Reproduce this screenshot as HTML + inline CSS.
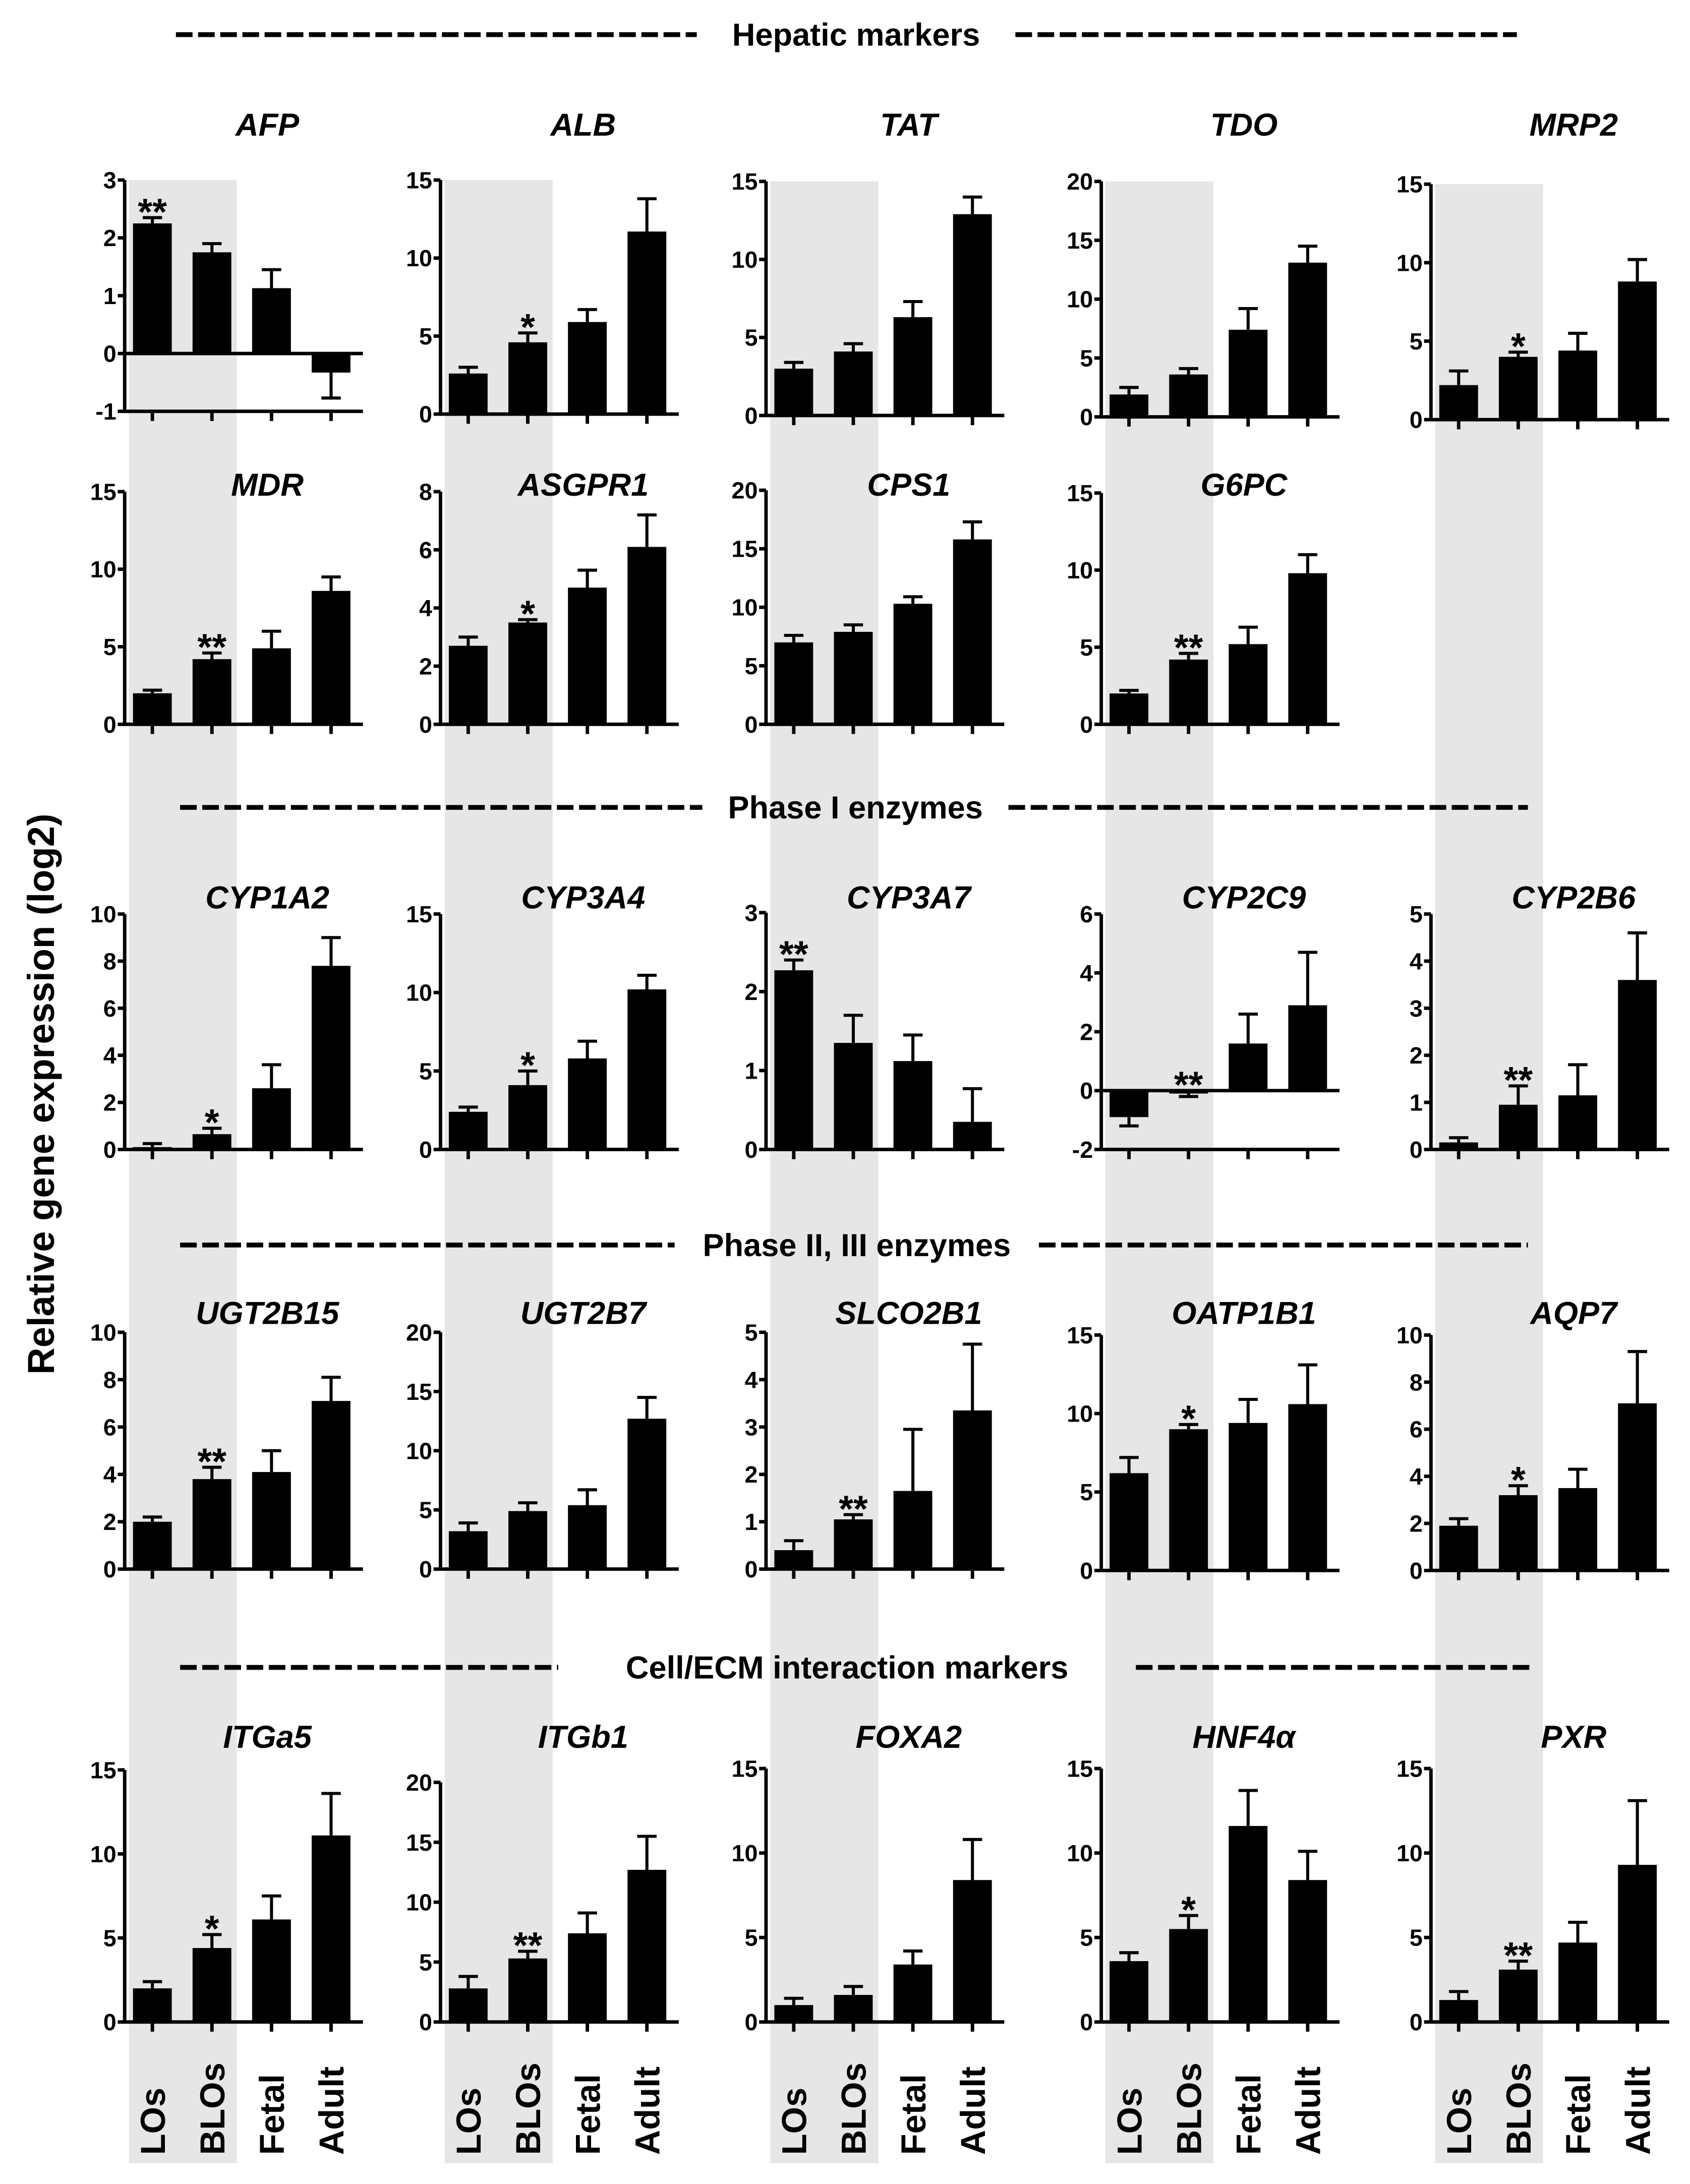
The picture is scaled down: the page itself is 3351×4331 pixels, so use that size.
<!DOCTYPE html>
<html><head><meta charset="utf-8"><style>
html,body{margin:0;padding:0;background:#fff}
svg{display:block}
text{font-family:"Liberation Sans",Arial,sans-serif;font-weight:bold;fill:#000}
</style></head><body>
<svg id="fig" width="3351" height="4331" viewBox="0 0 1220 1577" preserveAspectRatio="none" xmlns="http://www.w3.org/2000/svg">
<g id="bands"></g><g id="panels"></g><g id="headers"></g>
<text x="0" y="0" font-size="27" text-anchor="middle" transform="translate(39,790) rotate(-90)">Relative gene expression (log2)</text>
</svg>
<script>
const categories = ["LOs","BLOs","Fetal","Adult"];
const genes = ["AFP","ALB","TAT","TDO","MRP2","MDR","ASGPR1","CPS1","G6PC","CYP1A2","CYP3A4","CYP3A7","CYP2C9","CYP2B6","UGT2B15","UGT2B7","SLCO2B1","OATP1B1","AQP7","ITGa5","ITGb1","FOXA2","HNF4α","PXR"];
const means = [
 [2.25,1.75,1.13,-0.33],[2.6,4.6,5.9,11.7],[3.0,4.1,6.3,12.9],[1.9,3.6,7.4,13.1],[2.2,4.0,4.4,8.8],
 [2.0,4.2,4.9,8.6],[2.7,3.5,4.7,6.1],[7.0,7.9,10.3,15.8],[2.0,4.2,5.2,9.8],
 [0.1,0.65,2.6,7.8],[2.4,4.1,5.8,10.2],[2.27,1.35,1.12,0.35],[-0.9,-0.1,1.6,2.9],[0.15,0.95,1.15,3.6],
 [2.0,3.8,4.1,7.1],[3.2,4.9,5.4,12.7],[0.4,1.05,1.65,3.35],[6.2,9.0,9.4,10.6],[1.9,3.2,3.5,7.1],
 [2.0,4.4,6.1,11.1],[2.8,5.3,7.4,12.7],[1.0,1.6,3.4,8.4],[3.6,5.5,11.6,8.4],[1.3,3.1,4.7,9.3]];
const errors = [
 [0.1,0.15,0.32,0.44],[0.4,0.6,0.8,2.1],[0.4,0.5,1.0,1.1],[0.6,0.5,1.8,1.4],[0.9,0.3,1.1,1.4],
 [0.2,0.4,1.1,0.9],[0.3,0.1,0.6,1.1],[0.6,0.6,0.6,1.5],[0.2,0.4,1.1,1.2],
 [0.15,0.25,1.0,1.2],[0.3,0.9,1.1,0.9],[0.13,0.35,0.33,0.42],[0.3,0.1,1.0,1.8],[0.1,0.4,0.65,1.0],
 [0.2,0.5,0.9,1.0],[0.7,0.7,1.3,1.8],[0.2,0.1,1.3,1.4],[1.0,0.3,1.5,2.5],[0.3,0.4,0.8,2.2],
 [0.4,0.8,1.4,2.5],[1.0,0.6,1.7,2.8],[0.4,0.5,0.8,2.4],[0.5,0.8,2.1,1.7],[0.5,0.5,1.2,3.8]];
const stars = ["**","*","","","*","**","*","","**","*","*","**","**","**","**","","**","*","*","*","**","","*","**"];
const starIndex = [0,1,1,1,1,1,1,1,1,1,1,0,1,1,1,1,1,1,1,1,1,1,1,1];
const yMins = [-1,0,0,0,0,0,0,0,0,0,0,0,-2,0,0,0,0,0,0,0,0,0,0,0];
const yMaxs = [3,15,15,20,15,15,8,20,15,10,15,3,6,5,10,20,5,15,10,15,20,15,15,15];
const ySteps = [1,5,5,5,5,5,2,5,5,2,5,1,2,1,2,5,1,5,2,5,5,5,5,5];

// layout (positions, not data)
const colX=[90,318,553,795,1033];
const rowTop=[[130,130,131,131,133],[355,355,354,356],[660,660,659,660,660],[962,962,962,964,964],[1278,1287,1277,1277,1277]];
const rowBot=[[297,299,300,301,303],[523,523,523,523],[830,830,830,830,830],[1133,1133,1133,1134,1134],[1460,1460,1460,1460,1460]];
const rowTitle=[98,358,656,956,1262];
const NS="http://www.w3.org/2000/svg";
function mk(tag,attrs,parent){const e=document.createElementNS(NS,tag);for(const k in attrs)e.setAttribute(k,attrs[k]);parent.appendChild(e);return e;}

const bands=document.getElementById('bands');
colX.forEach((x,i)=>{
 const r=mk('rect',{x:x+3,y:rowTop[0][i],width:78,height:1562-rowTop[0][i],fill:'#e6e6e6'},bands);
 
 
});

const panels=document.getElementById('panels');
let gi=0;
for(let r=0;r<5;r++){
 const n=rowBot[r].length;
 for(let c=0;c<n;c++,gi++){
  const x0=colX[c], top=rowTop[r][c], bot=rowBot[r][c];
  const lo=yMins[gi], hi=yMaxs[gi];
  const ys=v=>bot-(v-lo)/(hi-lo)*(bot-top);
  const xs=k=>x0+20+k*43;
  const g=mk('g',{},panels);
  
  
  const t=mk('text',{x:x0+103,y:rowTitle[r],'font-size':23,'font-style':'italic','text-anchor':'middle'},g);
  t.textContent=genes[gi];
  
  
  for(let k=0;k<4;k++){
   const m=means[gi][k], e=errors[gi][k], y0=ys(0), ym=ys(m);
   const b=mk('rect',{x:xs(k)-14,y:Math.min(y0,ym),width:28,height:Math.abs(ym-y0),fill:'#000'},g);
   
   
   const ye=m>=0?ys(m+e):ys(m-e);
   const eb=mk('path',{d:`M${xs(k)} ${ym}V${ye}M${xs(k)-7} ${ye}H${xs(k)+7}`,stroke:'#000','stroke-width':2.2,fill:'none'},g);
   
   
   if(stars[gi] && k===starIndex[gi]){
    const sy=(m>=0?ye:ys(0));
    const s=mk('text',{x:xs(k),y:sy+5,'font-size':27,'text-anchor':'middle'},g);
    s.textContent=stars[gi];
    
    
   }
  }
  const ya=mk('line',{x1:x0,y1:top,x2:x0,y2:bot,stroke:'#000','stroke-width':2.5},g);
  
  
  const xa=mk('line',{x1:x0-1,y1:bot,x2:x0+172,y2:bot,stroke:'#000','stroke-width':2.5},g);
  
  
  if(lo<0){
   const zl=mk('line',{x1:x0,y1:ys(0),x2:x0+172,y2:ys(0),stroke:'#000','stroke-width':2.5},g);
   
   
  }
  for(let k=0;k<4;k++){mk('line',{x1:xs(k),y1:bot,x2:xs(k),y2:bot+7,stroke:'#000','stroke-width':2.5},g);}
  for(let v=lo;v<=hi+1e-9;v+=ySteps[gi]){
   mk('line',{x1:x0-5,y1:ys(v),x2:x0,y2:ys(v),stroke:'#000','stroke-width':2.5},g);
   const tl=mk('text',{x:x0-6,y:ys(v)+6,'font-size':17,'text-anchor':'end'},g);
   tl.textContent=String(v);
   
   
  }
  if(r===4){
   for(let k=0;k<4;k++){
    const cl=mk('text',{x:0,y:0,'font-size':25,'text-anchor':'start',transform:`translate(${xs(k)+9},1556) rotate(-90)`},g);
    cl.textContent=categories[k];
    
    
   }
  }
 }
}

const headers=document.getElementById('headers');
const headerTexts=["Hepatic  markers","Phase I enzymes","Phase II, III enzymes","Cell/ECM interaction markers"];
const headerY=[25,583,899,1204];
const headerSpan=[[127,503,733,1095],[130,507,728,1103],[130,487,750,1103],[130,403,820,1105]];
headerTexts.forEach((h,i)=>{
 const y=headerY[i], s=headerSpan[i];
 const l1=mk('line',{x1:s[0],y1:y,x2:s[1],y2:y,stroke:'#000','stroke-width':3.5,'stroke-dasharray':'12 4'},headers);
 
 
 const l2=mk('line',{x1:s[2],y1:y,x2:s[3],y2:y,stroke:'#000','stroke-width':3.5,'stroke-dasharray':'12 4'},headers);
 
 
 const t=mk('text',{x:(s[1]+s[2])/2,y:y+8,'font-size':23,'text-anchor':'middle'},headers);
 t.textContent=h;
 
 
});
</script>
</body></html>
